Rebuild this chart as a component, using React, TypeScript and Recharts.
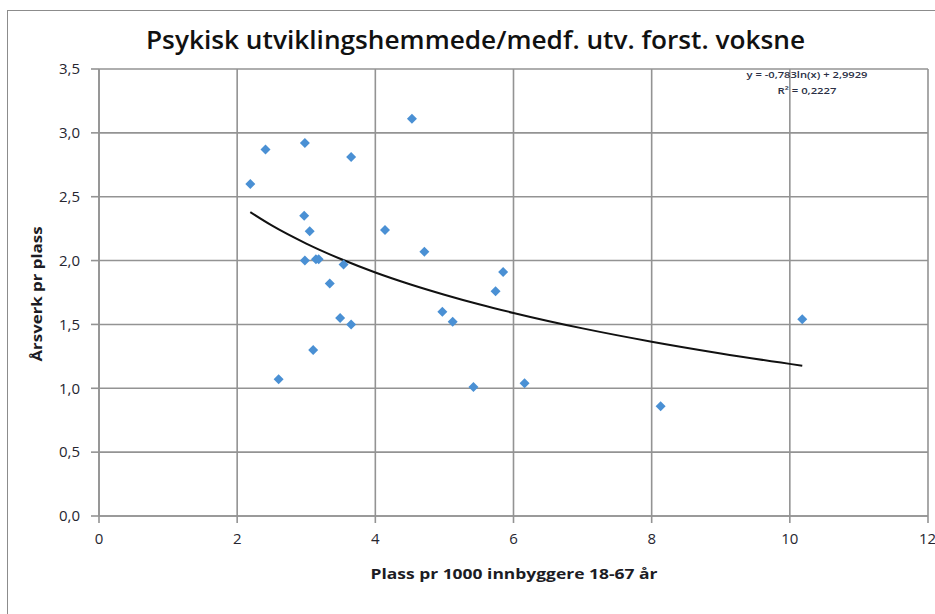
import {
  ComposedChart,
  Scatter,
  Line,
  XAxis,
  YAxis,
  CartesianGrid,
  Label,
} from "recharts";

// scatter values
const plassX = [
  4.53, 2.41, 2.98, 3.65, 2.19, 2.97, 3.05, 4.14, 4.71, 2.98, 3.14, 3.18, 3.54,
  3.34, 5.85, 5.74, 3.49, 3.65, 4.97, 5.12, 3.1, 2.6, 5.42, 6.16, 10.18, 8.13,
];
const arsverkY = [
  3.11, 2.87, 2.92, 2.81, 2.6, 2.35, 2.23, 2.24, 2.07, 2.0, 2.01, 2.01, 1.97,
  1.82, 1.91, 1.76, 1.55, 1.5, 1.6, 1.52, 1.3, 1.07, 1.01, 1.04, 1.54, 0.86,
];

// logarithmic trend line
const trendX = [2.19, 2.5, 3, 3.5, 4, 4.5, 5, 5.5, 6, 7, 8, 9, 10.18];
const trendY = [
  2.379, 2.275, 2.133, 2.012, 1.907, 1.815, 1.733, 1.658, 1.59, 1.469, 1.365,
  1.273, 1.176,
];

const xTicks = [0, 2, 4, 6, 8, 10, 12];
const yTicks = [0, 0.5, 1, 1.5, 2, 2.5, 3, 3.5];

const title = "Psykisk utviklingshemmede/medf. utv. forst. voksne";
const xTitle = "Plass pr 1000 innbyggere 18-67 år";
const yTitle = "Årsverk pr plass";
const equation = "y = -0,783ln(x) + 2,9929";
const rSquared = "R² = 0,2227";

const points = plassX.map((x, i) => ({ x, y: arsverkY[i] }));
const trend = trendX.map((x, i) => ({ x, y: trendY[i] }));

const gridColor = "#939393";
const markerColor = "#4a90d4";
const font = "'Open Sans', sans-serif";

function Diamond(props: any) {
  const { cx, cy } = props;
  if (cx == null || cy == null) return null;
  const r = 5;
  return (
    <polygon
      points={`${cx},${cy - r} ${cx + r},${cy} ${cx},${cy + r} ${cx - r},${cy}`}
      fill={markerColor}
    />
  );
}

const fmt = (v: number) => v.toFixed(1).replace(".", ",");

export default function App() {
  const tick = { fill: "#262630", fontSize: 15, fontFamily: font };

  return (
    <div
      style={{
        position: "fixed",
        left: 0,
        top: 0,
        width: 935,
        height: 614,
        overflow: "hidden",
        background: "#fff",
      }}
    >
      {/* outer chart frame */}
      <div
        style={{
          position: "absolute",
          left: 7,
          top: 10,
          width: 1000,
          height: 700,
          borderLeft: "1.5px solid #8c8c8c",
          borderTop: "1.5px solid #8c8c8c",
        }}
      />
      <div style={{ position: "absolute", left: 0, top: 0 }}>
        <ComposedChart
          width={935}
          height={614}
          margin={{ top: 69, right: 7, bottom: 0, left: 0 }}
        >
          <CartesianGrid stroke={gridColor} strokeWidth={1.6} />
          <XAxis
            type="number"
            dataKey="x"
            domain={[0, 12]}
            ticks={xTicks}
            height={98}
            stroke={gridColor}
            strokeWidth={1.6}
            tickSize={7}
            tickMargin={10}
            tick={tick}
            allowDataOverflow
          >
            <Label
              content={() => (
                <text
                  x={514}
                  y={579}
                  textAnchor="middle"
                  textLength={287}
                  lengthAdjust="spacingAndGlyphs"
                  fontFamily={font}
                  fontWeight="bold"
                  fontSize={15}
                  fill="#1c1c24"
                >
                  {xTitle}
                </text>
              )}
            />
          </XAxis>
          <YAxis
            type="number"
            dataKey="y"
            domain={[0, 3.5]}
            ticks={yTicks}
            width={99}
            stroke={gridColor}
            strokeWidth={1.6}
            tickSize={8}
            tickMargin={11}
            tick={tick}
            tickFormatter={fmt}
          >
            <Label
              content={() => (
                <text
                  x={42}
                  y={294}
                  transform="rotate(-90 42 294)"
                  textAnchor="middle"
                  textLength={135}
                  lengthAdjust="spacingAndGlyphs"
                  fontFamily={font}
                  fontWeight="bold"
                  fontSize={15}
                  fill="#1c1c24"
                >
                  {yTitle}
                </text>
              )}
            />
          </YAxis>
          <Scatter
            data={points}
            dataKey="y"
            shape={<Diamond />}
            isAnimationActive={false}
          />
          <Line
            data={trend}
            dataKey="y"
            type="monotone"
            stroke="#111"
            strokeWidth={2}
            dot={false}
            activeDot={false}
            isAnimationActive={false}
          />
        </ComposedChart>
      </div>
      <svg
        width={935}
        height={614}
        style={{ position: "absolute", left: 0, top: 0, pointerEvents: "none" }}
      >
        <text
          x={146}
          y={49}
          textLength={659}
          lengthAdjust="spacingAndGlyphs"
          fontFamily={font}
          fontWeight={600}
          fontSize={26}
          fill="#111"
        >
          {title}
        </text>
        <text
          x={807}
          y={78}
          textAnchor="middle"
          textLength={121}
          lengthAdjust="spacingAndGlyphs"
          fontFamily={font}
          fontWeight={600}
          fontSize={9}
          fill="#2a2f45"
        >
          {equation}
        </text>
        <text
          x={807}
          y={94}
          textAnchor="middle"
          textLength={59}
          lengthAdjust="spacingAndGlyphs"
          fontFamily={font}
          fontWeight={600}
          fontSize={9}
          fill="#2a2f45"
        >
          {rSquared}
        </text>
      </svg>
    </div>
  );
}
